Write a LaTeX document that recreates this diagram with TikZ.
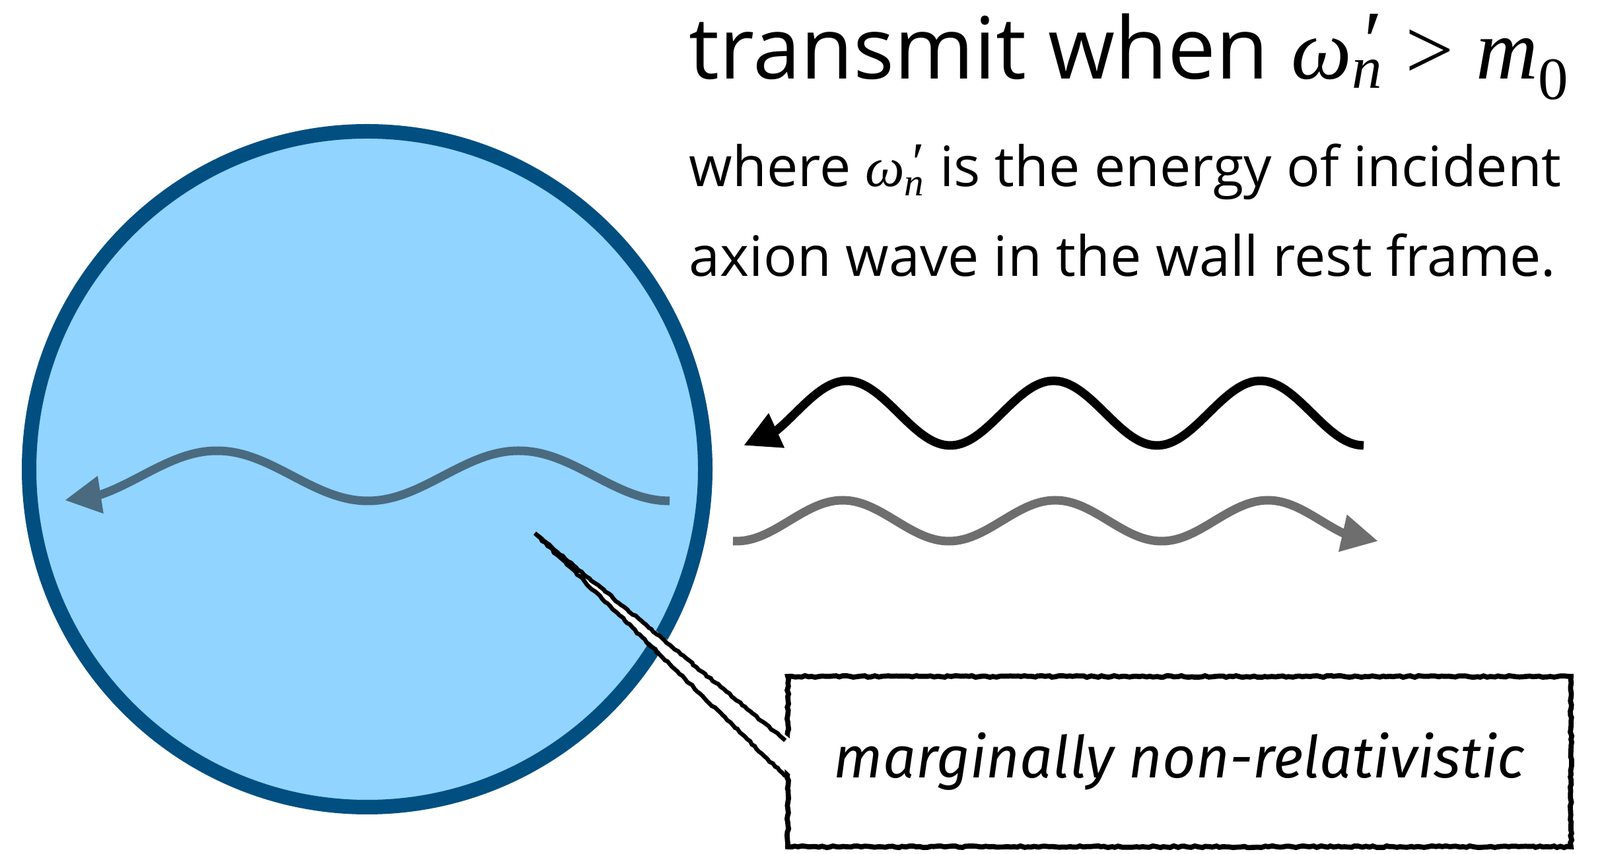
\documentclass[tikz,border=0pt]{standalone}
\usepackage{fontspec}
\setmainfont{Open Sans}
\newfontfamily\tms{Liberation Serif}
\newfontfamily\hand{Fira Sans}
\usetikzlibrary{arrows.meta, decorations.pathmorphing}
\definecolor{wallfill}{HTML}{91D4FF}
\definecolor{wallline}{HTML}{004F80}
\definecolor{innerwave}{HTML}{4A6A80}
\definecolor{outwave}{HTML}{6E6E6E}
\newcommand{\wnp}{{\tms\itshape ω\rlap{\kern0.08em\raisebox{0.1em}{′}}\textsubscript{n}}}

\begin{document}
\begin{tikzpicture}[
    wall/.style={circle, draw=wallline, fill=wallfill, line width=2.2mm, minimum size=10.24cm, inner sep=0pt},
    wave/.style={line width=1.3mm, -{Triangle[length=5.5mm, width=5.4mm]}},
    bigtext/.style={anchor=base west, inner sep=0pt, font=\fontsize{37}{44}\selectfont},
    bodytext/.style={anchor=base west, inner sep=0pt, font=\fontsize{24}{29}\selectfont},
    rough/.style={draw=black, line width=2.2pt, decorate, decoration={random steps, segment length=1.5pt, amplitude=0.35pt}},
    notebox/.style={rough, fill=white, minimum width=11.86cm, minimum height=2.58cm, inner sep=0pt, font=\hand\itshape\fontsize{25}{30}\selectfont}
]
\useasboundingbox (0,0) rectangle (24.23,12.94);

% ==================== WALL ====================
\node[wall] (wall) at (5.56,5.83) {};

% ==================== WAVES ====================
\coordinate (innertip) at (0.98,5.36);
\coordinate (intip) at (11.26,6.19);
\coordinate (outtip) at (20.87,4.74);

\draw[wave, innerwave] plot[domain=10.14:1.52, samples=80, smooth] (\x, {5.73-0.38*cos(360*(\x-10.14)/4.57)}) -- (innertip);
\draw[wave, black] plot[domain=20.65:11.76, samples=90, smooth] (\x, {6.68-0.49*cos(360*(\x-20.65)/3.13)}) -- (intip);
\draw[wave, outwave] plot[domain=11.10:20.35, samples=90, smooth] (\x, {5.05-0.31*cos(360*(\x-11.15)/3.22)}) -- (outtip);

% ==================== TEXT ====================
\node[bigtext] (title) at (10.43,11.74) {transmit when \wnp\ {\tms >} {\tms\itshape m}\textsubscript{\tms 0}};
\node[bodytext] (line1) at (10.43,10.11) {where \wnp\ is the energy of incident};
\node[bodytext] (line2) at (10.43,8.75) {axion wave in the wall rest frame.};

% ==================== CALLOUT ====================
\node[notebox] (note) at (17.86,1.40) {marginally non-relativistic};
\coordinate (ptip) at (8.10,4.86);
\fill[white] (ptip) -- ([xshift=3pt, yshift=3.2mm]note.west) -- ([xshift=3pt, yshift=-2.2mm]note.west) -- cycle;
\draw[rough, line width=1.8pt] ([yshift=3.2mm]note.west) -- (ptip) -- ([yshift=-2.2mm]note.west);

\end{tikzpicture}
\end{document}
